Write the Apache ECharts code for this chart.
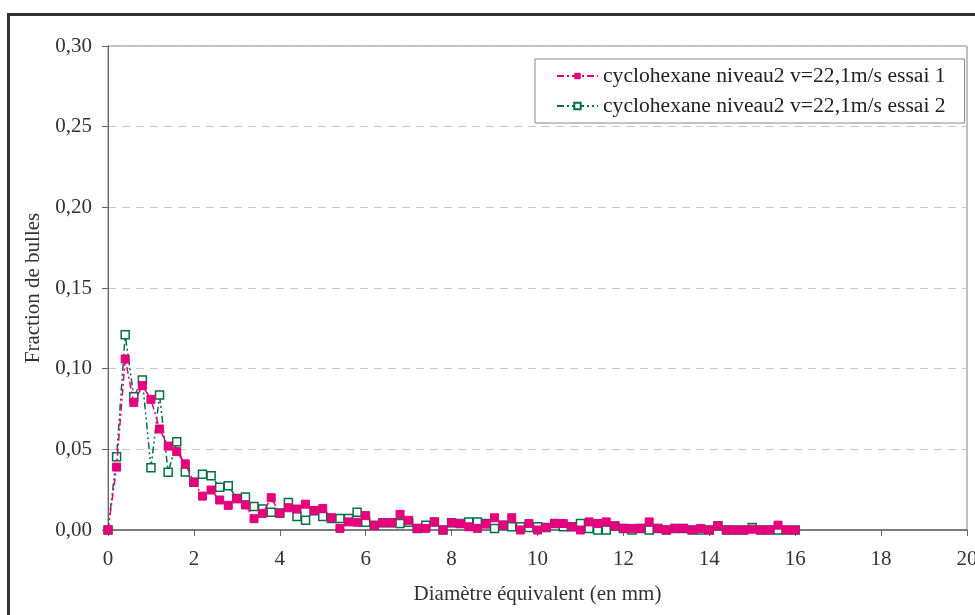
<!DOCTYPE html>
<html><head><meta charset="utf-8">
<script src="https://cdn.jsdelivr.net/npm/echarts@6/dist/echarts.min.js"></script>
<style>html,body{margin:0;padding:0;background:#fff}#c{width:975px;height:615px}</style>
</head><body><div id="c"></div>
<script>
const diam = [];
for (let i = 0; i <= 80; i++) diam.push(+(i * 0.2).toFixed(1));
const seriesNames = ['cyclohexane niveau2 v=22,1m/s essai 1', 'cyclohexane niveau2 v=22,1m/s essai 2'];
const essai1 = [
  0.000, 0.039, 0.106, 0.079, 0.0895, 0.081, 0.0626, 0.052, 0.0486, 0.041,
  0.0296, 0.021, 0.0248, 0.0186, 0.0153, 0.0194, 0.0155, 0.007, 0.0103, 0.020,
  0.0103, 0.0138, 0.013, 0.016, 0.012, 0.0134, 0.0076, 0.001, 0.005, 0.0048,
  0.0089, 0.0027, 0.0045, 0.0045, 0.0097, 0.006, 0.001, 0.001, 0.005, 0.000,
  0.0045, 0.004, 0.002, 0.001, 0.0037, 0.0076, 0.003, 0.0076, 0.000, 0.004,
  0.000, 0.0015, 0.004, 0.004, 0.002, 0.000, 0.005, 0.004, 0.005, 0.0025,
  0.001, 0.001, 0.001, 0.005, 0.001, 0.000, 0.001, 0.001, 0.000, 0.001,
  0.000, 0.0027, 0.000, 0.000, 0.000, 0.0005, 0.000, 0.000, 0.003, 0.000,
  0.000
];
const essai2 = [
  0.000, 0.0454, 0.121, 0.0826, 0.093, 0.0386, 0.0837, 0.0358, 0.0547, 0.036,
  0.0296, 0.0345, 0.0337, 0.0265, 0.0275, 0.0196, 0.0205, 0.0145, 0.013, 0.011,
  0.0105, 0.017, 0.0083, 0.006, 0.012, 0.0083, 0.0072, 0.0072, 0.0072, 0.011,
  0.0048, 0.003, 0.0045, 0.0045, 0.004, 0.0048, 0.001, 0.003, 0.005, 0.000,
  0.0045, 0.004, 0.005, 0.005, 0.004, 0.001, 0.003, 0.002, 0.002, 0.0015,
  0.002, 0.0015, 0.004, 0.002, 0.002, 0.004, 0.001, 0.000, 0.000, 0.0025,
  0.001, 0.000, 0.001, 0.000, 0.001, 0.000, 0.001, 0.001, 0.000, 0.000,
  0.000, 0.0027, 0.000, 0.000, 0.000, 0.0015, 0.000, 0.000, 0.000, 0.000,
  0.000
];
const xTicks = {min: 0, max: 20, interval: 2};
const yTicks = {min: 0, max: 0.30, interval: 0.05};

const font = 'Liberation Serif';
const pink = '#e5007d';
const green = '#007046';
const chart = echarts.init(document.getElementById('c'));
chart.setOption({
  animation: false,
  textStyle: {fontFamily: font},
  graphic: [{
    type: 'rect', left: 6, top: 12, shape: {x: 0, y: 0, width: 1000, height: 700},
    style: {fill: 'none', stroke: '#333', lineWidth: 3}, silent: true, z: -1
  }],
  grid: {left: 108, top: 46, right: 8, bottom: 85, show: true, borderColor: '#8a7f7f', borderWidth: 1,
    outerBoundsMode: 'none', containLabel: false},
  legend: {
    orient: 'vertical', left: 535, top: 59,
    backgroundColor: '#fff', borderColor: '#888', borderWidth: 1,
    padding: [6, 19, 6, 21], itemGap: 8, itemWidth: 41, itemHeight: 8,
    textStyle: {fontFamily: font, fontSize: 21.6, color: '#222'},
    data: seriesNames
  },
  xAxis: {
    type: 'value', min: xTicks.min, max: xTicks.max, interval: xTicks.interval,
    name: 'Diamètre équivalent (en mm)', nameLocation: 'middle', nameGap: 54,
    nameTextStyle: {fontFamily: font, fontSize: 21, color: '#333'},
    axisLine: {show: true, lineStyle: {color: '#666', width: 1.5}},
    axisTick: {show: true, length: 6, lineStyle: {color: '#666'}},
    axisLabel: {fontFamily: font, fontSize: 21, color: '#333', margin: 19},
    splitLine: {show: false}
  },
  yAxis: {
    type: 'value', min: yTicks.min, max: yTicks.max, interval: yTicks.interval,
    name: 'Fraction de bulles', nameLocation: 'middle', nameGap: 64, nameRotate: 90,
    nameTextStyle: {fontFamily: font, fontSize: 21, color: '#333'},
    axisLine: {show: true, lineStyle: {color: '#666', width: 1}},
    axisTick: {show: true, length: 6, lineStyle: {color: '#666'}},
    axisLabel: {fontFamily: font, fontSize: 21, color: '#333', margin: 16,
      formatter: v => v.toFixed(2).replace('.', ',')},
    splitLine: {show: true, lineStyle: {color: '#c8c8c8', type: [8, 6], width: 1}}
  },
  series: [
    {
      name: seriesNames[0], type: 'line',
      data: diam.map((d, i) => [d, essai1[i]]),
      symbol: 'rect', symbolSize: 8, showAllSymbol: true,
      itemStyle: {color: pink, borderColor: pink},
      lineStyle: {color: pink, width: 1.5, type: [7, 3, 2, 3]},
      z: 3
    },
    {
      name: seriesNames[1], type: 'line',
      data: diam.map((d, i) => [d, essai2[i]]),
      symbol: 'rect', symbolSize: 8, showAllSymbol: true,
      itemStyle: {color: '#fff', borderColor: green, borderWidth: 1.5},
      lineStyle: {color: green, width: 1.5, type: [7, 3, 2, 3, 2, 3]},
      z: 2
    }
  ]
});
</script></body></html>
